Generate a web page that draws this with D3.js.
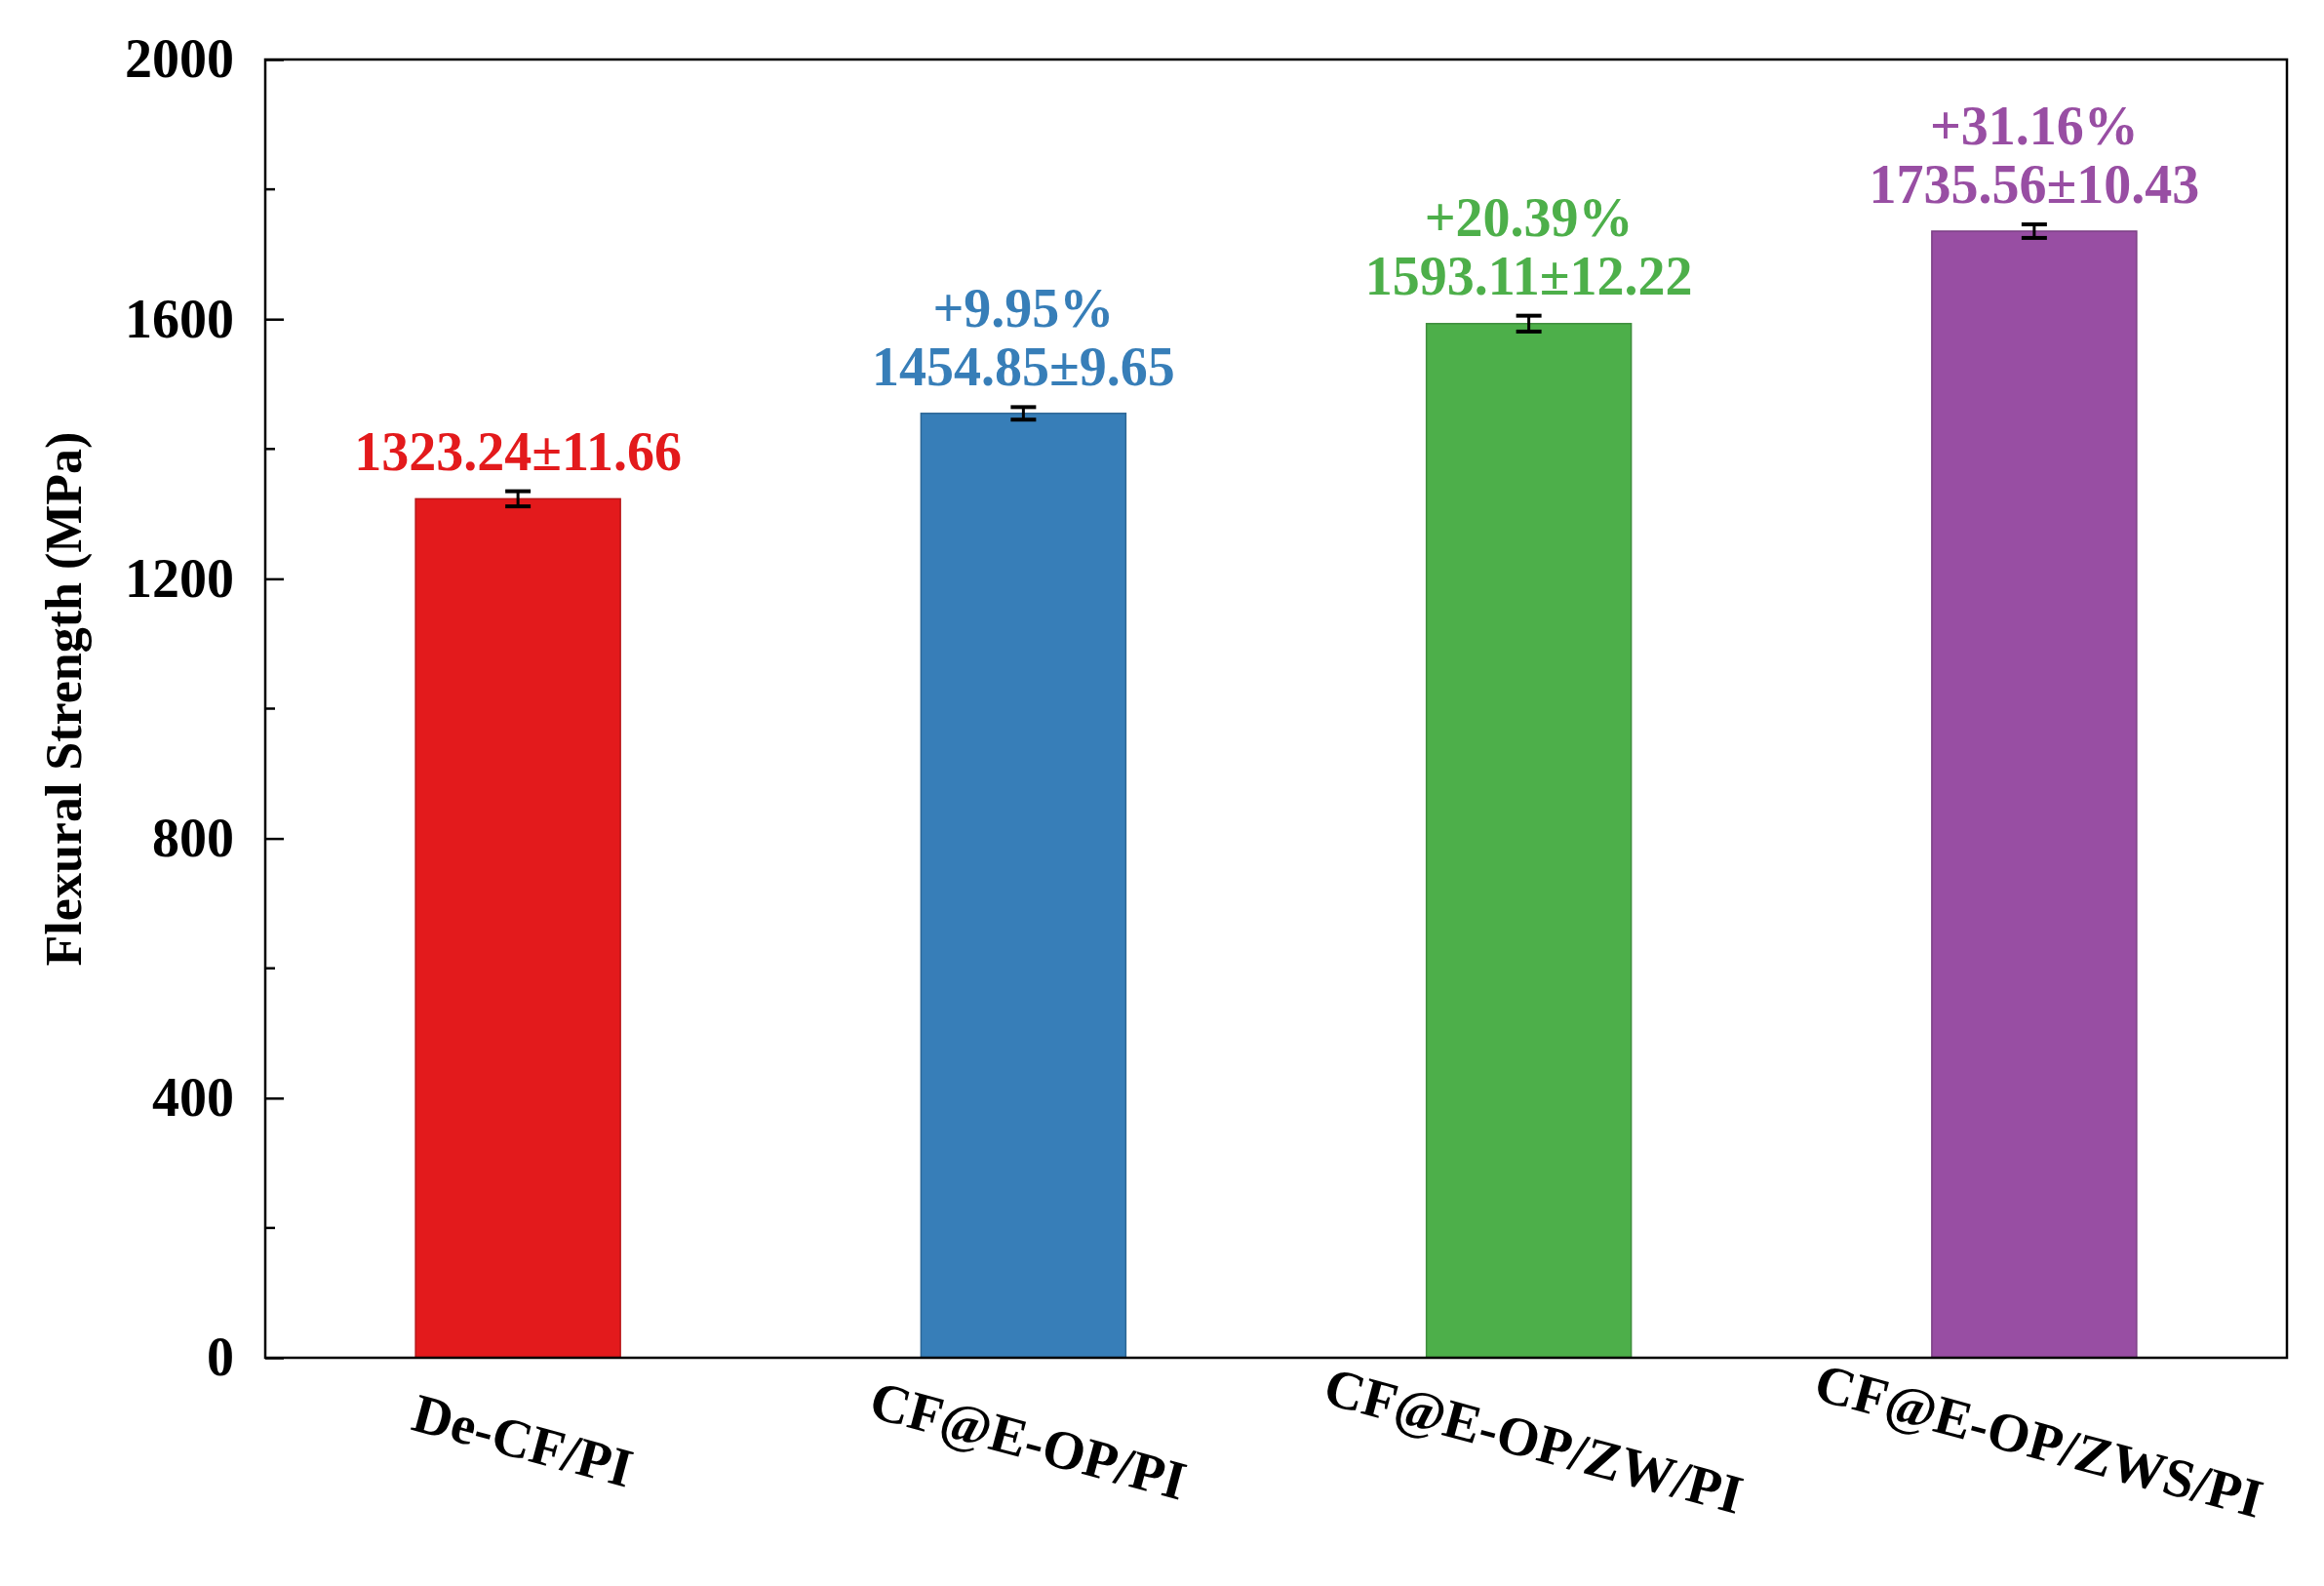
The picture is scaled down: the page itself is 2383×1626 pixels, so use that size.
<!DOCTYPE html><html><head><meta charset="utf-8">
<script src="https://cdn.jsdelivr.net/npm/d3@7"></script>
<style>body{margin:0;background:#fff}</style></head><body>
<svg id="c" width="2383" height="1626"></svg>
<script>
const categories=["De-CF/PI","CF@E-OP/PI","CF@E-OP/ZW/PI","CF@E-OP/ZWS/PI"];
const values=[1323.24,1454.85,1593.11,1735.56];
const errors=[11.66,9.65,12.22,10.43];
const increases=["","+9.95%","+20.39%","+31.16%"];
const colors=["#e31a1c","#377eb8","#4daf4a","#984ea3"];
const yTicks=[0,400,800,1200,1600,2000];
const svg=d3.select("#c");
const L=272,R=2345,T=61,B=1392;
const font="'Liberation Serif','Times New Roman',serif";
const x=d3.scalePoint().domain(categories).range([L,R]).padding(0.5);
const y=d3.scaleLinear().domain([0,2000]).range([B,T]);
const bw=210;
const g=svg.append("g");
g.selectAll("rect.bar").data(categories).join("rect")
 .attr("x",d=>x(d)-bw/2).attr("width",bw)
 .attr("y",(d,i)=>y(values[i])).attr("height",(d,i)=>B-y(values[i]))
 .attr("fill",(d,i)=>colors[i]).attr("stroke",(d,i)=>d3.color(colors[i]).darker(0.6)).attr("stroke-width",1.5);
// error bars
categories.forEach((c,i)=>{
 const cx=x(c),y1=y(values[i]+errors[i]),y0=y(values[i]-errors[i]);
 g.append("line").attr("x1",cx).attr("x2",cx).attr("y1",y1).attr("y2",y0).attr("stroke","#000").attr("stroke-width",3);
 [y1,y0].forEach(yy=>g.append("line").attr("x1",cx-13).attr("x2",cx+13).attr("y1",yy).attr("y2",yy).attr("stroke","#000").attr("stroke-width",4));
 const top=y(values[i]+errors[i]);
 g.append("text").attr("x",cx).attr("y",top-22).attr("text-anchor","middle")
  .attr("font-family",font).attr("font-weight","bold").attr("font-size",56).attr("fill",colors[i])
  .text(values[i].toFixed(2)+"±"+errors[i].toFixed(2));
 if(increases[i]) g.append("text").attr("x",cx).attr("y",top-82).attr("text-anchor","middle")
  .attr("font-family",font).attr("font-weight","bold").attr("font-size",56).attr("fill",colors[i]).text(increases[i]);
 g.append("text").attr("transform",`translate(${cx},${1495}) rotate(15)`).attr("text-anchor","middle")
  .attr("font-family",font).attr("font-weight","bold").attr("font-size",56).attr("fill","#000").text(c);
});
// frame
svg.append("rect").attr("x",L).attr("y",T).attr("width",R-L).attr("height",B-T).attr("fill","none").attr("stroke","#000").attr("stroke-width",2.5);
// y axis
const ya=svg.append("g").attr("transform",`translate(${L},0)`)
 .call(d3.axisLeft(y).tickValues(yTicks).tickSize(-19).tickPadding(32).tickFormat(d3.format("d")));
ya.select(".domain").remove();
ya.selectAll("line").attr("stroke","#000").attr("stroke-width",2.5);
ya.selectAll("text").attr("font-family",font).attr("font-weight","bold").attr("font-size",56).attr("fill","#000");
svg.append("g").selectAll("line").data(d3.range(200,2000,400)).join("line")
 .attr("x1",L).attr("x2",L+10).attr("y1",d=>y(d)).attr("y2",d=>y(d)).attr("stroke","#000").attr("stroke-width",2.5);
svg.append("text").attr("transform",`translate(${83},${(T+B)/2 - 10}) rotate(-90)`).attr("text-anchor","middle")
 .attr("font-family",font).attr("font-weight","bold").attr("font-size",52).text("Flexural Strength (MPa)");
</script></body></html>
